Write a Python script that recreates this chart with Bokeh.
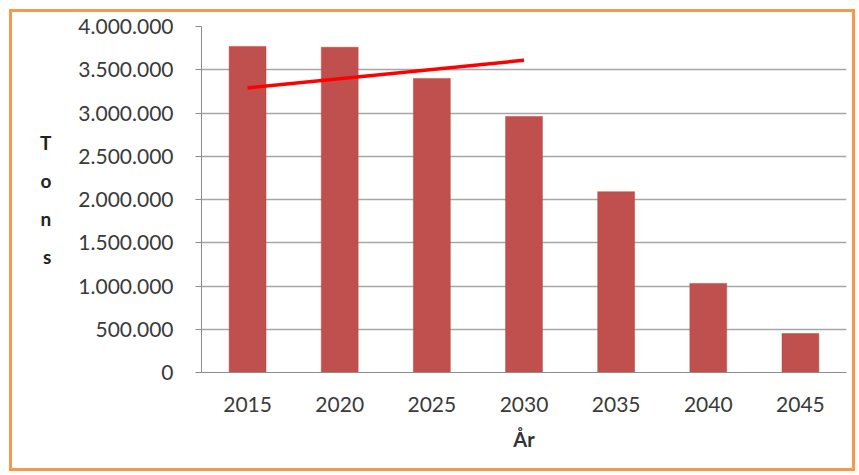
from bokeh.plotting import figure
from bokeh.embed import file_html
from bokeh.resources import INLINE
from bokeh.models import Range1d, CustomJSTickFormatter

years = ["2015", "2020", "2025", "2030", "2035", "2040", "2045"]
tons = [3770000, 3760000, 3400000, 2960000, 2090000, 1030000, 450000]
line_years = ["2015", "2030"]
line_tons = [3290000, 3610000]
y_label_letters = ["T", "o", "n", "s"]

FONT = "Lato"

p = figure(x_range=years, y_range=Range1d(0, 4000000), width=846, height=462,
           output_backend="svg", toolbar_location=None,
           min_border_left=189, min_border_right=12, min_border_top=14, min_border_bottom=102)
p.styles = {"border": "3px solid #F39A4E", "margin-left": "9px", "margin-top": "9px"}
p.background_fill_color = "white"
p.border_fill_color = "white"
p.outline_line_color = None

p.vbar(x=years, top=tons, width=0.4, fill_color="#C0504D", line_color="#B84642", line_width=0.5)
p.line(x=line_years, y=line_tons, line_color="#FF0000", line_width=3.5)

p.xgrid.grid_line_color = None
p.ygrid.grid_line_color = "#A6A6A6"
p.ygrid.grid_line_width = 1.5

p.yaxis.ticker = [0, 500000, 1000000, 1500000, 2000000, 2500000, 3000000, 3500000, 4000000]
p.yaxis.formatter = CustomJSTickFormatter(code="""
return tick.toFixed(0).replace(/\\B(?=(\\d{3})+(?!\\d))/g, '.');
""")
p.yaxis.minor_tick_line_color = None
p.yaxis.major_tick_out = 6
p.yaxis.major_tick_in = 0
p.yaxis.major_tick_line_color = "#8C8C8C"
p.yaxis.axis_line_color = "#8C8C8C"
p.yaxis.major_label_text_font = FONT
p.yaxis.major_label_text_font_size = "21px"
p.yaxis.major_label_text_color = "#3A3A3A"
p.yaxis.major_label_standoff = 22
p.yaxis.axis_label = "\n".join(y_label_letters)
p.yaxis.axis_label_orientation = "horizontal"
p.yaxis.axis_label_text_font = FONT
p.yaxis.axis_label_text_font_style = "bold"
p.yaxis.axis_label_text_font_size = "19px"
p.yaxis.axis_label_text_line_height = 1.65
p.yaxis.axis_label_text_color = "#222222"
p.yaxis.axis_label_standoff = 24

p.xaxis.major_tick_line_color = None
p.xaxis.axis_line_color = "#8C8C8C"
p.xaxis.major_label_text_font = FONT
p.xaxis.major_label_text_font_size = "21px"
p.xaxis.major_label_text_color = "#3A3A3A"
p.xaxis.major_label_standoff = 18
p.xaxis.axis_label = "År"
p.xaxis.axis_label_text_font = FONT
p.xaxis.axis_label_text_font_style = "bold"
p.xaxis.axis_label_text_font_size = "20px"
p.xaxis.axis_label_text_color = "#333333"
p.xaxis.axis_label_standoff = 12

open("out.html", "w").write(file_html(p, INLINE))
